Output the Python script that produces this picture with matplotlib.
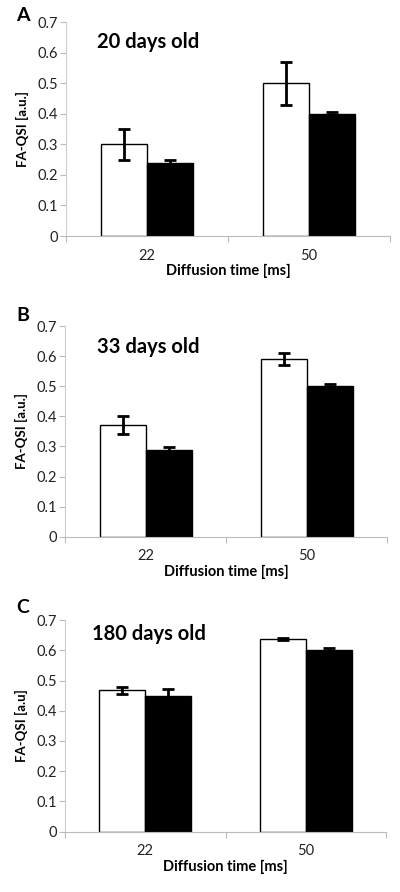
import numpy as np
import matplotlib
matplotlib.use('Agg')
from matplotlib import pyplot as plt

plt.rcParams['font.family'] = ['Lato', 'DejaVu Sans']

categories = ['22', '50']
panel_letters = ['A', 'B', 'C']
panel_titles = ['20 days old', '33 days old', '180 days old']
ylabels = ['FA-QSI [a.u.]', 'FA-QSI [a.u.]', 'FA-QSI [a.u]']

# white bars (group 1) and black bars (group 2), per panel
white_vals = [[0.30, 0.50], [0.37, 0.59], [0.467, 0.637]]
white_err = [[0.05, 0.07], [0.03, 0.02], [0.012, 0.003]]
black_vals = [[0.24, 0.40], [0.287, 0.50], [0.448, 0.600]]
black_err = [[0.01, 0.007], [0.012, 0.007], [0.023, 0.007]]

yticks = [0, 0.1, 0.2, 0.3, 0.4, 0.5, 0.6, 0.7]

# axes boxes in figure fractions [left, bottom, width, height]
boxes = [[0.165, 0.7354, 0.81, 0.2399],
         [0.1625, 0.3983, 0.805, 0.2362],
         [0.1625, 0.0676, 0.8025, 0.2373]]
# title anchor (axes fraction) per panel
title_pos = [(0.095, 0.905), (0.098, 0.90), (0.084, 0.935)]
letter_pos = [(-0.155, 1.03), (-0.152, 1.05), (-0.152, 1.06)]

fig = plt.figure(figsize=(4, 8.92), dpi=100)
w = 1 / 3.5
x = np.arange(len(categories))
for i in range(3):
    ax = fig.add_axes(boxes[i])
    ax.bar(x - w / 2, white_vals[i], w, color='white', edgecolor='black', linewidth=1.0,
           yerr=white_err[i], error_kw=dict(ecolor='black', elinewidth=2, capsize=4, capthick=2), zorder=2)
    ax.bar(x + w / 2, black_vals[i], w, color='black', edgecolor='black', linewidth=1.0,
           yerr=black_err[i], error_kw=dict(ecolor='black', elinewidth=2, capsize=4, capthick=2), zorder=2)
    ax.set_xlim(-0.5, 1.5)
    ax.set_ylim(0, 0.7)
    ax.set_yticks(yticks)
    ax.set_yticklabels(['0'] + ['%.1f' % v for v in yticks[1:]], fontsize=10.5, color='#222222')
    ax.set_xticks([-0.5, 0.5, 1.5])
    ax.set_xticklabels([])
    ax.set_xticks(x, minor=True)
    ax.set_xticklabels(categories, minor=True, fontsize=10.5, color='#222222')
    ax.tick_params(axis='x', which='major', direction='out', length=4, color='#bbbbbb')
    ax.tick_params(axis='x', which='minor', length=0, pad=9)
    ax.tick_params(axis='y', direction='out', length=4, color='#bbbbbb', pad=2)
    for s in ['top', 'right']:
        ax.spines[s].set_visible(False)
    ax.spines['left'].set_color('#cccccc')
    ax.spines['bottom'].set_color('#bbbbbb')
    ax.set_xlabel('Diffusion time [ms]', fontsize=10.5, fontweight='bold', labelpad=1)
    ax.set_ylabel(ylabels[i], fontsize=9.5, fontweight='bold', labelpad=6)
    ax.text(title_pos[i][0], title_pos[i][1], panel_titles[i], transform=ax.transAxes,
            fontsize=14.5, fontweight='bold', va='center', ha='left')
    ax.text(letter_pos[i][0], letter_pos[i][1], panel_letters[i], transform=ax.transAxes,
            fontsize=14, fontweight='bold', va='center', ha='left')

fig.savefig('out.png', dpi=100)
